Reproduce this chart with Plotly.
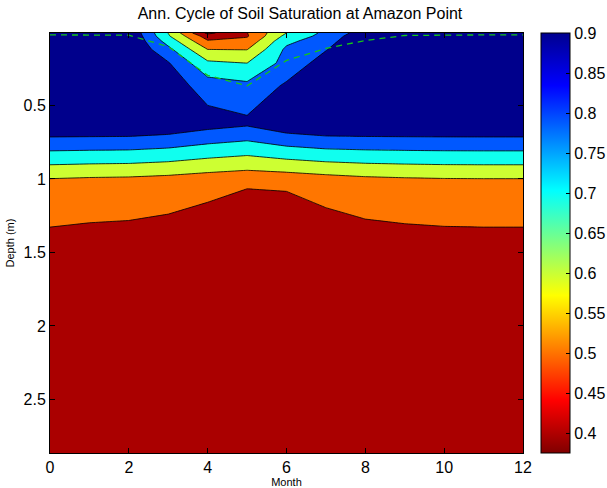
import plotly.graph_objects as go

# Soil layer node depths (m) and month axis
depths = [0.0071, 0.0279, 0.0623, 0.1189, 0.2122, 0.3661, 0.6198, 1.0380, 1.7276, 2.8646]
months = [0, 1, 2, 3, 4, 5, 6, 7, 8, 9, 10, 11, 12]

# Soil saturation per layer (rows, top to bottom) and month (columns)
sat_layer1 = [1.0, 1.0, 0.99, 0.698, 0.376, 0.497, 0.70, 0.825, 0.95, 1.0, 1.0, 1.0, 1.0]
sat_layer2 = [1.0, 1.0, 1.0, 0.711, 0.45, 0.49, 0.73, 0.835, 0.979, 1.0, 1.0, 1.0, 1.0]
sat_layer3 = [1.0, 1.0, 1.0, 0.76, 0.51, 0.53, 0.775, 0.858, 0.998, 1.0, 1.0, 1.0, 1.0]
sat_layer4 = [1.0, 1.0, 1.0, 0.827, 0.60, 0.597, 0.82, 0.895, 1.0, 1.0, 1.0, 1.0, 1.0]
sat_layer5 = [1.0, 1.0, 1.0, 0.908, 0.72, 0.70, 0.836, 0.944, 1.0, 1.0, 1.0, 1.0, 1.0]
sat_layer6 = [1.0, 1.0, 1.0, 0.959, 0.85, 0.823, 0.915, 0.97, 1.0, 1.0, 1.0, 1.0, 1.0]
sat_layer7 = [1.0, 1.0, 0.999, 0.983, 0.945, 0.92, 0.977, 1.0, 1.0, 1.0, 1.0, 1.0, 1.0]
sat_layer8 = [0.558, 0.5485, 0.544, 0.533, 0.517, 0.5035, 0.5058, 0.5237, 0.5414, 0.5504, 0.5562, 0.558, 0.558]
sat_layer9 = [0.42, 0.42, 0.42, 0.42, 0.42, 0.42, 0.42, 0.42, 0.42, 0.42, 0.42, 0.42, 0.42]
sat_layer10 = [0.41, 0.41, 0.41, 0.41, 0.41, 0.41, 0.41, 0.41, 0.41, 0.41, 0.41, 0.41, 0.41]

# Water table depth (m) per month
water_table = [0.02, 0.02, 0.022, 0.10, 0.295, 0.367, 0.194, 0.112, 0.058, 0.024, 0.02, 0.02, 0.02]

# Contour levels and colour limits
levels = [0.4, 0.5, 0.6, 0.7, 0.8, 0.9]
cmin, cmax = 0.376, 0.9
cbar_ticks = [0.4, 0.45, 0.5, 0.55, 0.6, 0.65, 0.7, 0.75, 0.8, 0.85, 0.9]

z = [sat_layer1, sat_layer2, sat_layer3, sat_layer4, sat_layer5,
     sat_layer6, sat_layer7, sat_layer8, sat_layer9, sat_layer10]

# Band colours (below 0.4, 0.4-0.5, ..., above 0.9) from a reversed jet map
band_colors = ["rgb(128,0,0)", "rgb(170,0,0)", "rgb(255,118,0)", "rgb(205,255,50)",
               "rgb(16,255,239)", "rgb(0,88,255)", "rgb(0,0,140)"]
n = len(band_colors) - 1
band_scale = [[i / n, c] for i, c in enumerate(band_colors)]

# Continuous reversed jet for the colour bar (low value = dark red)
jet_rev = [[0.0, "rgb(128,0,0)"], [0.125, "rgb(255,0,0)"], [0.375, "rgb(255,255,0)"],
           [0.625, "rgb(0,255,255)"], [0.875, "rgb(0,0,255)"], [1.0, "rgb(0,0,143)"]]

font_family = "Liberation Sans, Arial, Helvetica, sans-serif"

# Plot area in pixels
left, right, top, bottom = 50, 523, 33, 453
W, H = 607, 488

fig = go.Figure()
fig.add_trace(go.Contour(
    x=months, y=depths, z=z,
    autocontour=False,
    contours=dict(start=levels[0], end=levels[-1], size=0.1, coloring="fill", showlines=True),
    line=dict(color="black", width=0.8, smoothing=0),
    colorscale=band_scale,
    showscale=False,
    hoverinfo="skip",
))
fig.add_trace(go.Scatter(
    x=months, y=water_table, mode="lines",
    line=dict(color="rgb(20,200,20)", width=1.3, dash="6px,5px"),
    hoverinfo="skip", showlegend=False,
))
# Invisible markers carrying the colour bar
fig.add_trace(go.Scatter(
    x=[6, 6], y=[1.5, 1.5], mode="markers",
    marker=dict(size=1, opacity=0, color=[cmin, cmax], cmin=cmin, cmax=cmax,
                colorscale=jet_rev, showscale=True,
                colorbar=dict(
                    x=1.0 + (541 - right) / (right - left), xanchor="left", xpad=0, ypad=0,
                    y=0.5, yanchor="middle", len=1, lenmode="fraction",
                    thickness=29, outlinecolor="black", outlinewidth=1,
                    tickvals=cbar_ticks, ticktext=[f"{t:g}" for t in cbar_ticks],
                    ticks="inside", ticklen=4, tickcolor="black",
                    tickfont=dict(family=font_family, size=16, color="black"),
                )),
    hoverinfo="skip", showlegend=False,
))

fig.update_layout(
    width=W, height=H,
    margin=dict(l=left, r=W - right, t=top, b=H - bottom, autoexpand=False),
    paper_bgcolor="white", plot_bgcolor="white",
    showlegend=False,
    title=dict(text="Ann. Cycle of Soil Saturation at Amazon Point",
               x=300 / W, xref="container", xanchor="center",
               y=1 - 13 / H, yref="container", yanchor="middle",
               font=dict(family=font_family, size=16, color="black")),
    font=dict(family=font_family, color="black"),
)
fig.update_xaxes(
    range=[0, 12], tickvals=[0, 2, 4, 6, 8, 10, 12],
    ticks="inside", ticklen=5, tickcolor="black",
    showline=True, linecolor="black", linewidth=1, mirror="ticks",
    showgrid=False, zeroline=False, automargin=False,
    tickfont=dict(size=16),
    title=dict(text="Month", font=dict(size=11), standoff=2),
)
fig.update_yaxes(
    range=[depths[-1], depths[0]], tickvals=[0.5, 1, 1.5, 2, 2.5],
    ticktext=["0.5", "1", "1.5", "2", "2.5"],
    ticks="inside", ticklen=5, tickcolor="black",
    showline=True, linecolor="black", linewidth=1, mirror="ticks",
    showgrid=False, zeroline=False, automargin=False,
    tickfont=dict(size=16),
    title=dict(text="Depth (m)", font=dict(size=11), standoff=6),
)

fig.write_html("out.html")
